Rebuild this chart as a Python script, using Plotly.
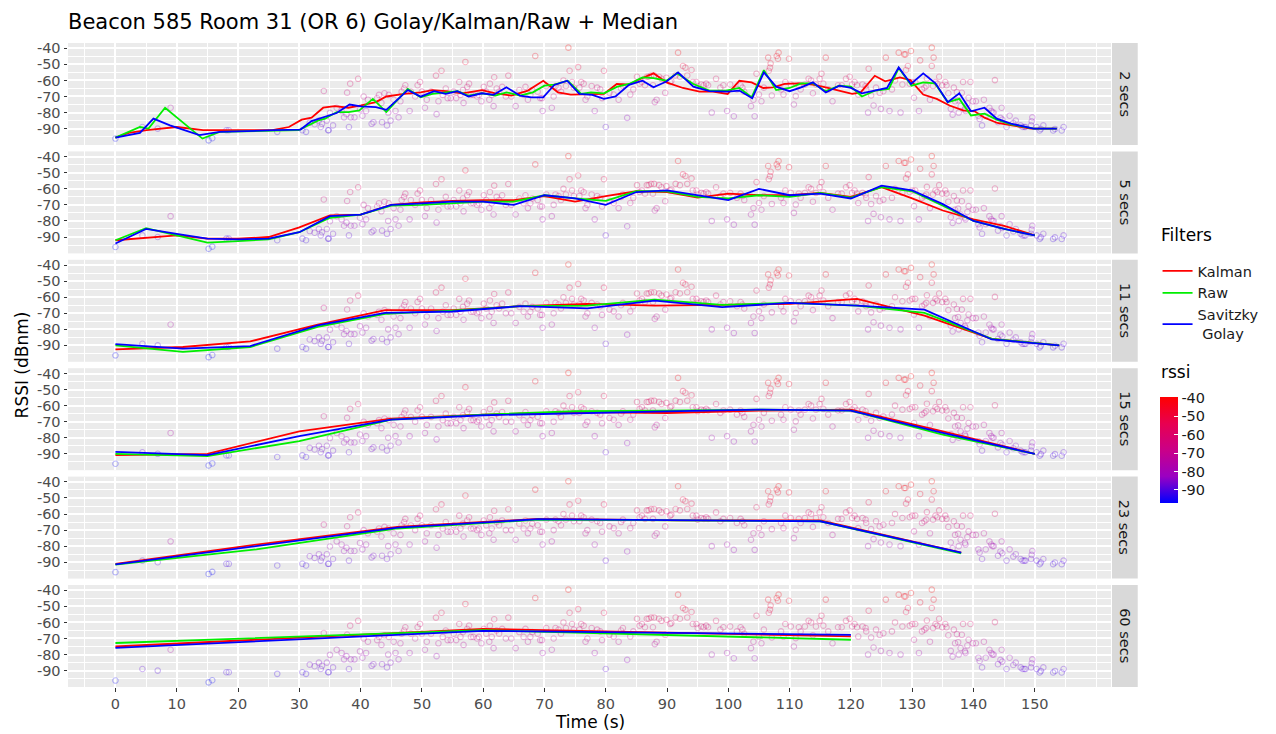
import plotly.graph_objects as go
from plotly.subplots import make_subplots

# ---------------- data ----------------
windows = ["2 secs", "5 secs", "11 secs", "15 secs", "23 secs", "60 secs"]
filters = ["Kalman", "Raw", "Savitzky<br> Golay"]
filter_colors = ["#FF0000", "#00EE00", "#0000FF"]
y_tick_vals = [-40, -50, -60, -70, -80, -90]
y_tick_text = ["-40", "-50", "-60", "-70", "-80", "-90"]
x_tick_vals = [0, 10, 20, 30, 40, 50, 60, 70, 80, 90, 100, 110, 120, 130, 140, 150]

# raw RSSI samples (time s, rssi dBm)
raw_points = [
    (0.0, -96.2), (4.4, -89), (6.9, -90), (9.0, -77), (15.2, -97.3), (15.8, -96), (18.1, -91), (18.5, -91),
    (26.4, -92), (30.5, -91), (31.1, -92), (31.7, -86.3), (32.5, -87.3), (33.2, -85), (33.5, -89), (33.7, -87),
    (34.0, -66.6), (34.5, -85), (34.7, -91), (34.8, -91),
    (35.0, -80.2), (35.5, -88), (36.1, -77), (36.9, -79), (37.3, -83), (37.7, -81), (37.8, -67.6), (38.1, -89),
    (38.3, -62), (38.4, -83), (39.0, -83), (39.6, -59), (39.9, -78), (40.3, -82), (40.5, -70), (40.9, -79),
    (41.2, -72), (41.8, -87), (42.1, -86), (42.7, -71), (43.0, -69), (43.4, -74), (43.5, -86), (43.9, -68),
    (44.3, -88), (44.5, -80), (44.6, -69), (44.9, -85), (45.4, -72), (45.7, -79), (46.2, -83), (46.5, -73),
    (46.7, -67), (47.1, -65), (47.3, -63), (48.0, -79), (48.2, -67), (48.9, -70), (49.3, -63), (49.7, -61),
    (50.0, -67), (50.5, -77), (50.8, -72), (51.5, -67), (52.3, -57), (52.4, -81), (52.7, -73), (53.2, -54),
    (53.4, -69), (53.9, -65), (54.2, -71), (54.7, -71), (55.2, -67), (55.6, -71), (56.1, -61), (56.3, -69),
    (56.7, -66), (56.8, -74), (57.1, -48.5), (57.4, -64), (57.7, -62), (58.0, -69), (58.4, -69), (59.0, -70),
    (59.3, -69), (59.7, -73), (60.1, -64), (60.5, -67), (61.0, -72), (61.1, -62), (61.4, -69), (61.7, -76),
    (61.8, -58), (62.2, -65), (62.6, -67), (63.1, -64), (63.7, -70), (64.1, -57), (64.6, -70), (65.3, -76),
    (65.9, -66), (66.6, -69),
    (66.9, -64), (67.3, -72), (67.7, -69), (68.0, -66), (68.5, -44.8), (68.9, -67), (69.3, -71), (69.6, -71),
    (69.7, -79), (70.3, -63.5), (71.2, -77), (71.5, -70), (71.8, -63.5), (72.3, -64.5), (72.7, -67), (73.1, -60),
    (73.5, -63.5), (73.9, -39.6), (74.1, -54), (74.5, -61), (74.8, -64.5), (75.5, -51.7), (75.7, -64.5), (76.0, -61),
    (76.4, -62), (76.7, -72), (77.0, -70), (77.7, -63.5), (78.2, -79), (78.6, -64.5), (79.1, -65.6), (79.4, -71),
    (79.7, -54), (80.0, -89), (80.6, -67.7), (81.3, -68.8), (82.1, -72), (82.5, -65), (82.8, -63.5), (83.5, -83.3),
    (84.0, -68.8), (84.5, -65.6), (85.1, -57.7), (85.5, -62), (85.9, -61), (86.4, -63), (86.7, -57.7), (87.0, -57.7),
    (87.4, -56.9), (87.7, -63), (87.9, -56.9), (88.0, -73.5), (88.3, -72), (88.7, -57.7), (89.1, -59), (89.7, -67.7),
    (89.9, -58.3), (90.5, -61), (90.7, -60.4), (91.4, -56.9), (91.8, -42.7), (92.1, -57.7), (92.6, -51), (93.0, -52),
    (93.3, -56.9), (94.0, -53.5), (94.2, -61), (94.8, -61), (95.0, -63.5), (95.6, -62.5), (96.0, -63), (96.4, -62),
    (96.7, -63), (97.3, -80),
    (98.0, -59), (98.7, -64.5), (99.2, -63), (99.8, -79), (100.3, -62.5), (100.9, -82.3), (101.4, -65.6), (102.0, -63),
    (102.3, -64.5), (102.6, -67), (103.7, -76), (104.1, -72), (104.3, -82.3), (104.6, -55.8), (105.0, -68.8), (105.4, -73),
    (105.8, -64.5), (106.5, -45.8), (106.6, -54), (106.8, -52), (106.9, -49.4), (107.1, -69.4), (107.9, -44.8), (108.1, -46.5),
    (108.2, -42.7), (108.6, -65.6), (109.0, -68.8), (109.3, -61), (109.9, -46.5), (110.2, -62.5), (110.7, -75), (111.0, -69.8),
    (111.5, -63), (111.8, -65.6), (112.5, -62.5), (113.1, -59), (113.5, -60), (113.8, -68), (114.3, -62.5), (114.9, -59),
    (115.2, -55.8), (115.5, -62), (115.9, -45.8), (116.3, -65.6), (117.0, -73), (117.9, -63), (118.5, -63), (119.2, -59),
    (119.8, -57.7), (120.2, -62.5), (120.6, -61), (121.0, -63), (121.2, -68.8), (121.9, -62.5), (122.4, -63.5), (122.5, -65.6),
    (122.8, -80), (122.9, -52.7), (123.3, -69.4), (123.7, -75.6), (124.1, -64.5), (124.7, -67.7), (124.9, -77.7), (125.3, -66.7),
    (125.7, -45.8), (126.3, -79), (126.7, -65.6), (127.2, -60), (127.8, -42.7),
    (128.1, -80), (128.4, -62.5), (128.7, -43.8), (128.9, -43.8), (129.0, -53.5), (129.3, -51), (129.6, -62), (129.8, -41.7),
    (130.0, -61), (130.3, -70.8), (130.5, -61), (131.1, -79), (131.3, -47.5), (131.6, -65.6), (132.0, -64.5), (132.3, -63.5),
    (132.4, -58.8), (132.9, -72), (133.2, -51), (133.2, -39.6), (133.4, -63.5), (133.5, -45.8), (133.8, -61), (134.1, -62),
    (134.4, -57.7), (134.9, -63), (135.4, -61), (135.6, -63), (135.9, -68), (136.3, -77.7), (136.6, -81.3), (136.8, -64.5),
    (137.0, -73), (137.3, -67.3), (137.5, -72.3), (137.6, -80), (137.9, -76), (138.1, -67.7), (138.3, -61), (138.6, -78),
    (138.7, -79), (139.0, -74.4), (139.2, -70.8), (139.5, -61), (139.9, -73), (140.4, -73), (140.8, -82), (141.0, -84),
    (141.4, -88), (141.7, -72), (142.0, -82), (142.6, -77), (142.9, -79), (143.1, -80), (143.3, -80), (143.5, -59.8),
    (144.0, -86), (144.4, -83.3), (144.6, -77), (144.7, -84.4), (145.4, -89), (145.9, -82), (146.5, -86.5), (146.9, -85),
    (147.7, -88), (148.0, -89), (148.3, -89), (148.5, -89), (149.4, -88), (149.5, -85.4), (149.6, -83), (150.3, -89),
    (150.8, -91.2), (151.0, -90.2), (151.4, -88), (153.0, -91.2), (153.3, -90.2), (154.4, -91.2), (154.7, -89),
]
raw_time = [p[0] for p in raw_points]
raw_rssi = [p[1] for p in raw_points]

# filtered medians per window (time s, rssi)
kalman_2s = [(0, -95.6), (2.2, -92.7), (5.1, -91), (7.8, -90), (10, -89), (14.3, -91), (25.6, -91), (28.3, -89),
             (30.4, -84.4), (32, -83.2), (33.9, -77), (35.8, -76), (38, -77), (40.1, -75.6), (42.5, -73.5), (44.2, -70),
             (47.1, -68.4), (49.8, -67.4), (51.7, -66), (53.9, -66.7), (56.6, -68), (59.8, -66), (62, -68), (64.6, -69.4),
             (67.3, -66.3), (69.8, -60.2), (72.2, -67.4), (74.3, -68.8), (76, -68.8), (78.1, -68.4), (79.7, -68.4),
             (81.8, -62.2), (83.8, -62.6), (85.6, -59.1), (87.8, -55.6), (89.9, -61.2), (92.6, -64.7), (95.3, -67),
             (97.5, -67), (99.9, -68.4), (101.8, -60.2), (103.8, -61.2), (105.7, -64.7), (107.3, -64.3), (109.2, -62.2),
             (111.6, -61.8), (113.8, -62.6), (115.9, -64.3), (118.1, -66.3), (120.2, -68.4), (121.6, -67.4), (123.9, -57.1),
             (125.6, -60.6), (128, -58.1), (129.7, -59.8), (131.8, -68.8), (134, -71.5), (136.1, -75.6), (138.3, -78.7),
             (140.2, -79.2), (141.8, -83.2), (143.9, -86.5), (146.3, -88), (149.3, -90), (153.6, -90)]
raw_2s = [(0, -95.6), (4, -89), (5.4, -90), (8.1, -77), (14.2, -96.2), (17, -92), (29.9, -91), (33.1, -84.9),
          (34.2, -83.8), (36.1, -79.7), (38, -79.7), (39.8, -78.7), (42, -71.5), (44.2, -79.7), (47.7, -65.3),
          (49.8, -70.5), (51.7, -68.4), (53.9, -67.4), (55.8, -66.7), (57.6, -69.4), (59.8, -68), (62, -69.4),
          (63.8, -67.4), (66, -69.4), (68.1, -67.4), (70, -63.3), (71.6, -62.6), (73.8, -60.2), (76, -68.4),
          (77.6, -67.4), (79.7, -68), (81.9, -63.9), (83.8, -62.2), (86, -58.1), (87.8, -58.5), (89.9, -60.2),
          (91.6, -55.6), (94.3, -62.2), (96.9, -66.3), (99.6, -66.3), (101.8, -64.7), (103.8, -70.5), (105.8, -53.6),
          (107.8, -66), (110, -64.7), (111.9, -61.8), (113.8, -61.8), (115.9, -66.7), (118.1, -63.3), (120, -63.9),
          (121.8, -70), (124, -66.3), (126.2, -65.3), (127.8, -52.3), (129.9, -63.3), (131.8, -61.2), (133.7, -61.8),
          (135.8, -73.5), (137.7, -71.5), (139.6, -81.8), (141.8, -80.7), (143.8, -84.4), (146.1, -87.3), (149.8, -90),
          (153.6, -90)]
sg_2s = [(0, -95.6), (4, -92.7), (6.2, -83.8), (8.9, -88), (13.7, -94.1), (17, -92), (26.1, -91), (30.2, -90.6),
         (32, -85.3), (36.1, -80.3), (38.2, -75), (40.1, -76.2), (42.5, -76.6), (44.2, -78.3), (47.7, -66), (49.8, -70.1),
         (52, -66.7), (53.9, -68.4), (55.8, -66.7), (57.6, -70), (59.8, -68), (61.7, -69), (63.8, -64.3), (66, -69.4),
         (67.9, -70.5), (69.8, -70.5), (71.6, -62.8), (73.7, -60.2), (75.7, -68.4), (77.8, -69), (79.7, -71.5),
         (81.6, -70), (83.8, -62.8), (86, -60.2), (87.8, -64.3), (89.9, -60.7), (91.8, -55), (94.3, -63.9), (96.9, -66.7),
         (99.9, -67), (101.8, -66.3), (103.9, -71.1), (105.8, -55), (107.8, -63.9), (110, -66.7), (111.9, -64.3),
         (113.8, -61.2), (115.9, -67.5), (118.1, -63.3), (120, -64.7), (121.8, -68), (124, -66.3), (125.9, -64.7),
         (127.8, -51.9), (129.8, -62.2), (131.8, -55.6), (133.8, -61.8), (135.8, -73.5), (137.7, -68), (139.6, -79.2),
         (141.8, -77), (143.8, -83.8), (146.1, -86.9), (149.8, -90), (153.6, -90)]

t_5s = [0, 5, 10, 15, 20, 25, 30, 35, 40, 45, 50, 55, 60, 65, 70, 75, 80, 85, 90, 95, 100, 105, 110, 115, 120, 125, 130, 135, 140, 145, 150]
kalman_5s = [-92, -90.5, -89, -91, -91, -90, -84, -76.5, -76, -70, -68.5, -67.5, -67, -67, -64.5, -68, -64.5, -61.5, -62, -65.5, -63, -64, -64, -62.5, -65, -59, -66, -73.5, -79, -83, -89]
raw_5s = [-92, -84.5, -89, -93.5, -92.5, -91.5, -87, -78, -76, -70.5, -70, -69, -68, -68, -64, -66, -67.5, -61.5, -61.5, -65, -66, -64, -65, -62.5, -65.5, -59, -61.5, -70.5, -80, -85, -89]
sg_5s = [-94, -85, -88, -91, -91.5, -91, -87, -77, -76, -70, -69, -68, -68, -70, -64, -66, -70, -62, -61, -64, -67, -60, -64, -63, -66, -58, -61, -69.5, -80, -85, -89]

t_11s = [0, 11, 22, 33, 44, 55, 66, 77, 88, 99, 110, 121, 132, 143, 154]
kalman_11s = [-92.5, -91, -87.5, -77, -68, -68, -65.6, -64.2, -65.2, -64.8, -64.2, -61, -71.4, -85.9, -90]
raw_11s = [-90, -94, -91, -78.5, -70.4, -68.3, -65.6, -65.2, -61.5, -64.8, -63.5, -65.2, -69.8, -85.9, -90]
sg_11s = [-89.2, -92, -90.4, -77.5, -69.8, -68.9, -65.6, -66.9, -62.1, -66.2, -63.5, -65.2, -67.7, -86.3, -90]

t_15s = [0, 15, 30, 45, 60, 75, 90, 105, 120, 135, 150]
kalman_15s = [-90.8, -90, -76, -68.1, -65.6, -64, -64.6, -63.1, -62.5, -76, -90]
raw_15s = [-90, -91.4, -82.1, -68.7, -65.6, -63.5, -63.1, -62.5, -63.1, -78, -90]
sg_15s = [-88.8, -90.8, -79, -68.7, -66, -64.6, -63.6, -62.5, -63.1, -77, -90]

t_23s = [0, 23, 46, 69, 92, 115, 138]
kalman_23s = [-91, -79, -68, -63, -64, -64, -84]
raw_23s = [-91.5, -82, -69, -63.5, -64, -64.5, -84.5]
sg_23s = [-91.3, -80, -68.5, -63.2, -64, -64.5, -84]

t_60s = [0, 60, 120]
kalman_60s = [-75, -64, -68.7]
raw_60s = [-72.8, -64.8, -70.8]
sg_60s = [-75.8, -65.2, -67.8]

series_by_window = [
    [list(zip(*kalman_2s)), list(zip(*raw_2s)), list(zip(*sg_2s))],
    [(t_5s, kalman_5s), (t_5s, raw_5s), (t_5s, sg_5s)],
    [(t_11s, kalman_11s), (t_11s, raw_11s), (t_11s, sg_11s)],
    [(t_15s, kalman_15s), (t_15s, raw_15s), (t_15s, sg_15s)],
    [(t_23s, kalman_23s), (t_23s, raw_23s), (t_23s, sg_23s)],
    [(t_60s, kalman_60s), (t_60s, raw_60s), (t_60s, sg_60s)],
]

# ---------------- geometry (window pixel coords; page body has an 8px margin) ----------------
OFF = 8
W, H = 1276 - OFF, 734 - OFF
P_LEFT, P_RIGHT, P_TOP, P_BOTTOM = 68, 1121, 43, 687
PW, PH = P_RIGHT - P_LEFT, P_BOTTOM - P_TOP
ML, MT = P_LEFT - OFF, P_TOP - OFF
MR, MB = W - ML - PW, H - MT - PH


def px(xw):
    return (xw - P_LEFT) / PW


def py(yw):
    return (P_BOTTOM - yw) / PH


fig = make_subplots(rows=6, cols=1, shared_xaxes=True, vertical_spacing=6.4 / PH)

for r in range(6):
    fig.add_trace(go.Scatter(
        x=raw_time, y=raw_rssi, mode="markers",
        marker=dict(symbol="circle-open", size=5.5, color=raw_rssi, coloraxis="coloraxis",
                    opacity=0.28, line=dict(width=1.1)),
        showlegend=False, hoverinfo="skip"), row=r + 1, col=1)
    for k, (tx, vy) in enumerate(series_by_window[r]):
        fig.add_trace(go.Scatter(
            x=list(tx), y=list(vy), mode="lines", name=filters[k],
            line=dict(color=filter_colors[k], width=1.8),
            legendgroup=filters[k], showlegend=(r == 0)), row=r + 1, col=1)

grid = "#FFFFFF"
for r in range(6):
    fig.update_xaxes(row=r + 1, col=1, range=[-7.74, 162.44], tickvals=x_tick_vals,
                     showgrid=True, gridcolor=grid, gridwidth=1.5, zeroline=False, showline=False,
                     minor=dict(dtick=5, tick0=0, showgrid=True, gridcolor=grid, gridwidth=0.6),
                     ticks="outside" if r == 5 else "", ticklen=3.5, tickcolor="#333333",
                     tickfont=dict(size=14.5, color="#4D4D4D"))
    fig.update_yaxes(row=r + 1, col=1, range=[-100.2, -36.7], tickvals=y_tick_vals, ticktext=y_tick_text,
                     showgrid=True, gridcolor=grid, gridwidth=1.5, zeroline=False, showline=False,
                     minor=dict(dtick=5, tick0=-35, showgrid=True, gridcolor=grid, gridwidth=0.6),
                     ticks="outside", ticklen=3.5, tickcolor="#333333",
                     tickfont=dict(size=14.5, color="#4D4D4D"))

shapes = []
annotations = []
for r in range(6):
    yref = "y domain" if r == 0 else f"y{r + 1} domain"
    shapes.append(dict(type="rect", xref="paper", yref=yref, x0=px(1122), x1=px(1148),
                       y0=0, y1=1, fillcolor="#D9D9D9", line=dict(width=0), layer="below"))
    annotations.append(dict(text=windows[r], xref="paper", yref=yref, x=px(1135), y=0.5,
                            showarrow=False, textangle=90, font=dict(size=14.5, color="#1A1A1A"),
                            xanchor="center", yanchor="middle"))

annotations.append(dict(text="Time (s)", xref="paper", yref="paper", x=0.5, y=py(722),
                        showarrow=False, font=dict(size=17, color="#000000"), xanchor="center", yanchor="middle"))
annotations.append(dict(text="RSSI (dBnm)", xref="paper", yref="paper", x=px(22), y=0.5,
                        showarrow=False, textangle=-90, font=dict(size=17, color="#000000"),
                        xanchor="center", yanchor="middle"))
annotations.append(dict(text="Filters", xref="paper", yref="paper", x=px(1169), y=py(235),
                        showarrow=False, font=dict(size=17, color="#000000"), xanchor="left", yanchor="middle"))
annotations.append(dict(text="rssi", xref="paper", yref="paper", x=px(1169), y=py(372),
                        showarrow=False, font=dict(size=17, color="#000000"), xanchor="left", yanchor="middle"))

fig.update_layout(
    width=W, height=H,
    margin=dict(l=ML, r=MR, t=MT, b=MB, pad=0),
    paper_bgcolor="white", plot_bgcolor="#EBEBEB",
    font=dict(family="DejaVu Sans", color="#000000"),
    title=dict(text="Beacon 585 Room 31 (OR 6) Golay/Kalman/Raw + Median", x=(68 - OFF) / W, xanchor="left",
               xref="container", yref="container", y=1 - (22 - OFF) / H, yanchor="middle",
               font=dict(size=21, color="#000000")),
    coloraxis=dict(
        colorscale=[[0, "#0000FF"], [0.25, "#9A00C2"], [0.5, "#CA0088"], [0.75, "#E80050"], [1, "#FF0000"]],
        cmin=-97.3, cmax=-39.6,
        colorbar=dict(thickness=18, lenmode="pixels", len=106, x=px(1170), xanchor="left",
                      xpad=0, ypad=0, y=py(450.3), yanchor="middle",
                      tickvals=y_tick_vals, ticktext=y_tick_text, ticks="inside", tickcolor="white",
                      ticklen=4, outlinewidth=0, tickfont=dict(size=14.5, color="#1A1A1A"))),
    legend=dict(x=px(1168), xanchor="left", y=py(255), yanchor="top",
                font=dict(size=14.5, color="#1A1A1A"),
                bgcolor="rgba(0,0,0,0)", tracegroupgap=0, itemwidth=30),
    shapes=shapes, annotations=annotations,
)

fig.write_html("out.html")
